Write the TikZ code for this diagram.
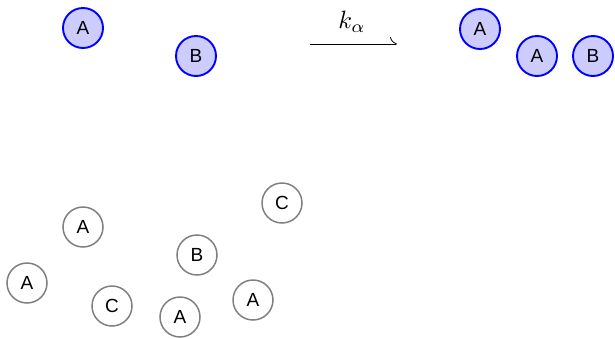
\documentclass[tikz,border=0pt]{standalone}
\usepackage{fontspec}
\setmainfont{Liberation Sans}
\usetikzlibrary{arrows.meta}
\definecolor{molfill}{RGB}{204,204,255}
\definecolor{molgray}{RGB}{128,128,128}
\begin{document}
\begin{tikzpicture}[x=1pt,y=-1pt,
  mol/.style={circle,minimum size=40pt,inner sep=0pt,font=\fontsize{19}{23}\selectfont},
  reactant/.style={mol,draw=blue,fill=molfill,line width=1.9pt},
  solvent/.style={mol,draw=molgray,line width=1.5pt},
  rxn/.style={line width=0.8pt,-{To[left,length=7pt,width=14pt]}}]
\useasboundingbox (0,0) rectangle (615,338);
% top reaction
\node[reactant] (a1) at (83,28) {A};
\node[reactant] (b1) at (196,56) {B};
\coordinate (s) at (310,44);
\coordinate (e) at (397,44);
\draw[rxn] (s) -- (e);
\node[anchor=base,inner sep=0pt] (k) at (352,28.5) {\scalebox{2.5}{$k_\alpha$}};
\node[reactant] (a2) at (480,29) {A};
\node[reactant] (a3) at (537,56) {A};
\node[reactant] (b2) at (593,56) {B};
% bottom
\node[solvent] (c1) at (282,203) {C};
\node[solvent] (a4) at (83,227) {A};
\node[solvent] (b3) at (197,255) {B};
\node[solvent] (a5) at (27,283) {A};
\node[solvent] (c2) at (112,306) {C};
\node[solvent] (a6) at (180,317) {A};
\node[solvent] (a7) at (253,300) {A};
\end{tikzpicture}
\end{document}
